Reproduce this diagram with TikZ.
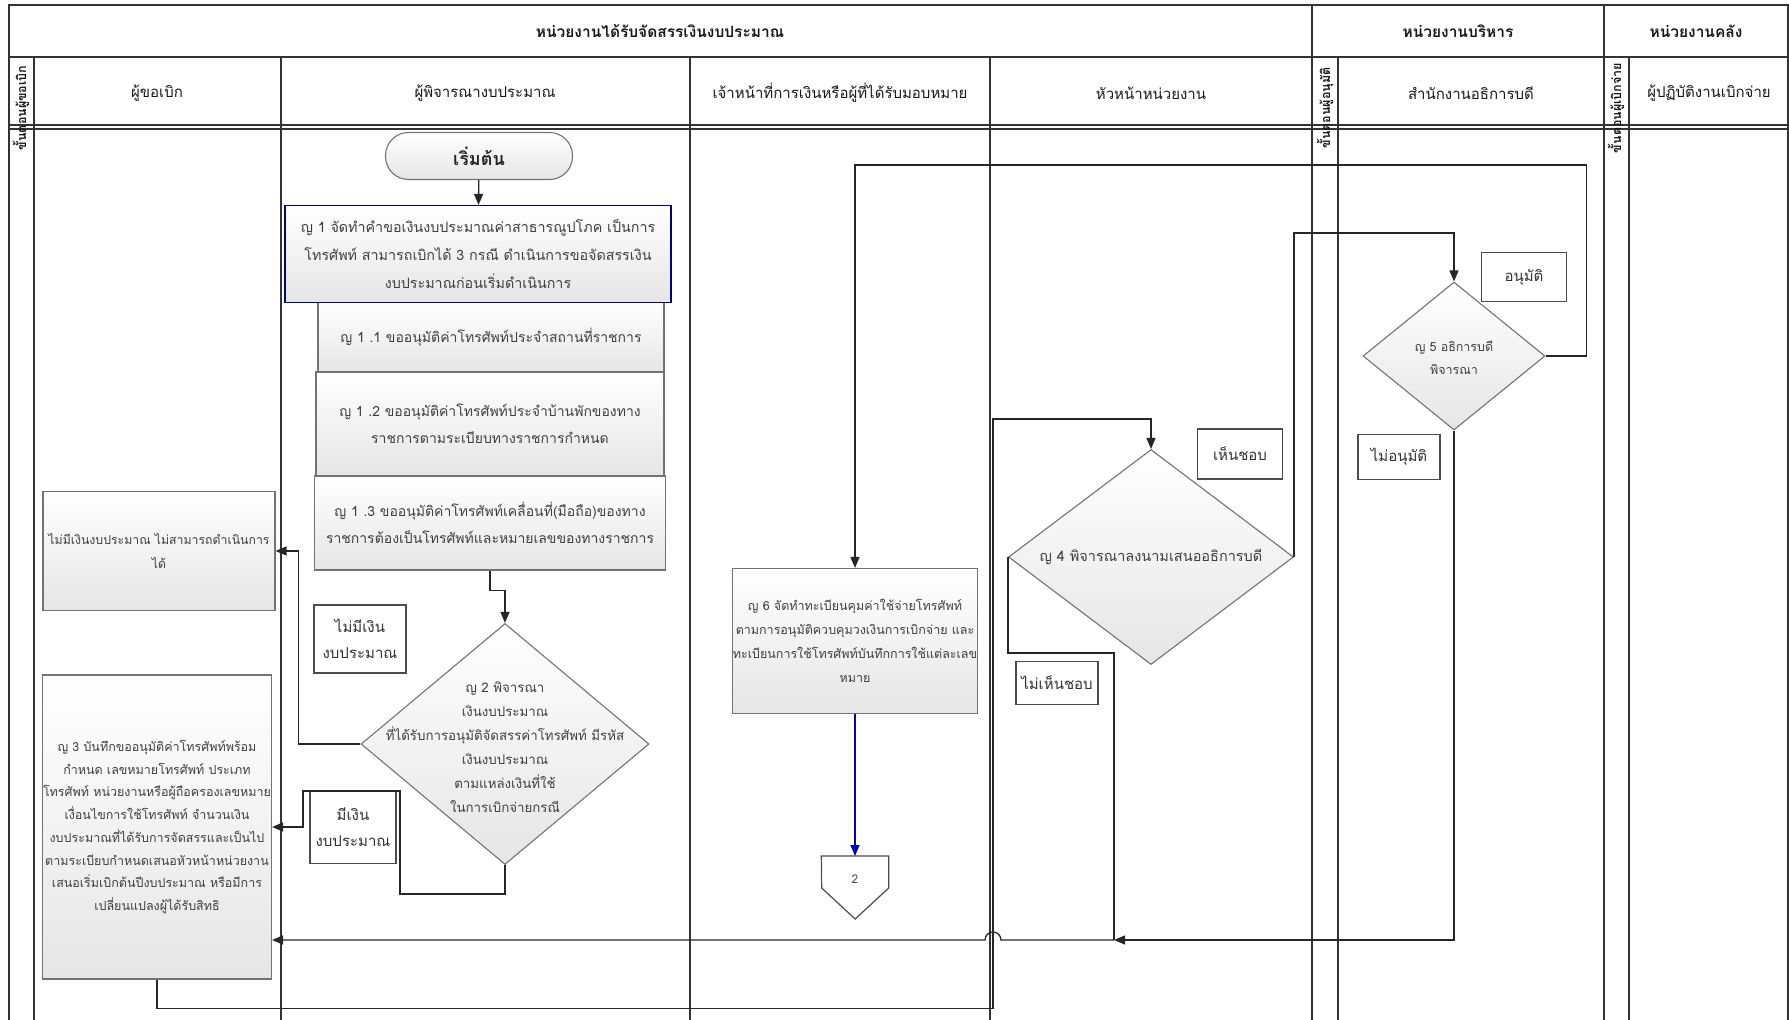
\documentclass[tikz,border=0pt]{standalone}
\usepackage{fontspec}
\setmainfont[Script=Thai]{Loma}
\usetikzlibrary{positioning, shapes.geometric, arrows.meta}

\newcommand{\fsz}[2]{\fontsize{#1}{#2}\selectfont}

\begin{document}
\begin{tikzpicture}[x=1pt, y=-1pt,
    lane/.style={line width=1.3pt, draw=black!80},
    procbox/.style={rectangle, draw=black!55, line width=1.1pt, top color=white, bottom color=black!10, text=black!75, align=center, inner sep=0pt},
    decide/.style={diamond, draw=black!55, line width=1.1pt, top color=white, bottom color=black!10, inner sep=0pt},
    dtext/.style={text=black!75, align=center, inner sep=0pt},
    tag/.style={rectangle, draw=black!70, line width=1.2pt, fill=white, text=black!80, align=center, inner sep=0pt, font=\fsz{15}{26}},
    flow/.style={line width=1.3pt, draw=black!85, -{Triangle[length=11pt, width=9pt]}},
    link/.style={line width=1.3pt, draw=black!85},
    head/.style={text=black!90, font=\fsz{15}{18}},
    sidehead/.style={rotate=90, text=black!90, font=\bfseries\fsz{12.5}{13}}
  ]
  \useasboundingbox (0,0) rectangle (1789,1020);

  \draw[lane] (9,5) rectangle (1788,1024);
  \draw[lane] (9,57) -- (1788,57);
  \draw[lane] (9,125) -- (1788,125);
  \draw[lane] (9,129) -- (1788,129);
  \foreach \x in {1312,1604}
    \draw[lane] (\x,5) -- (\x,1024);
  \foreach \x in {34,281,690,990,1338,1629}
    \draw[lane] (\x,57) -- (\x,1024);

  \node[head, font=\bfseries\fsz{15.5}{18}] (unitA) at (660,31) {หน่วยงานได้รับจัดสรรเงินงบประมาณ};
  \node[head, font=\bfseries\fsz{15.5}{18}] (unitB) at (1458,31) {หน่วยงานบริหาร};
  \node[head, font=\bfseries\fsz{15.5}{18}] (unitC) at (1696,31) {หน่วยงานคลัง};

  \node[head] (colA) at (157,93) {ผู้ขอเบิก};
  \node[head] (colB) at (485,93) {ผู้พิจารณางบประมาณ};
  \node[head] (colC) at (840,93) {เจ้าหน้าที่การเงินหรือผู้ที่ได้รับมอบหมาย};
  \node[head] (colD) at (1151,93) {หัวหน้าหน่วยงาน};
  \node[head] (colE) at (1471,93) {สำนักงานอธิการบดี};
  \node[head] (colF) at (1709,93) {ผู้ปฏิบัติงานเบิกจ่าย};

  \node[sidehead] (sideA) at (21,108) {ขั้นตอนผู้ขอเบิก};
  \node[sidehead] (sideB) at (1325,108) {ขั้นตอนผู้อนุมัติ};
  \node[sidehead] (sideC) at (1616,108) {ขั้นตอนผู้เบิกจ่าย};

  \node[procbox, rounded corners=23pt, minimum width=187, minimum height=47, text=black!85, font=\bfseries\fsz{18}{20}] (start) at (479,156) {เริ่มต้น};

  \node[procbox, minimum width=346, minimum height=69, font=\fsz{14}{26}] (j11) at (491,337) {ญ 1 .1 ขออนุมัติค่าโทรศัพท์ประจำสถานที่ราชการ};
  \node[procbox, minimum width=348, minimum height=104, font=\fsz{14}{27}] (j12) at (490,424) {ญ 1 .2 ขออนุมัติค่าโทรศัพท์ประจำบ้านพักของทาง\\ราชการตามระเบียบทางราชการกำหนด};
  \node[procbox, minimum width=351, minimum height=94, font=\fsz{14}{27}] (j13) at (490,523) {ญ 1 .3 ขออนุมัติค่าโทรศัพท์เคลื่อนที่(มือถือ)ของทาง\\ราชการต้องเป็นโทรศัพท์และหมายเลขของทางราชการ};
  \node[procbox, draw=blue!55!black, minimum width=386, minimum height=97, font=\fsz{14.3}{28}] (j1) at (478,254) {ญ 1 จัดทำคำขอเงินงบประมาณค่าสาธารณูปโภค เป็นการ\\โทรศัพท์ สามารถเบิกได้ 3 กรณี ดำเนินการขอจัดสรรเงิน\\งบประมาณก่อนเริ่มดำเนินการ};

  \node[decide, minimum width=288, minimum height=241] (j2) at (505,744) {};
  \node[dtext, font=\fsz{13.3}{24}] (j2t) at (505,747) {ญ 2  พิจารณา\\เงินงบประมาณ\\ที่ได้รับการอนุมัติจัดสรรค่าโทรศัพท์ มีรหัส\\เงินงบประมาณ\\ตามแหล่งเงินที่ใช้\\ในการเบิกจ่ายกรณี};

  \node[procbox, minimum width=232, minimum height=119, font=\fsz{12.3}{24}] (nobud) at (159,551) {ไม่มีเงินงบประมาณ ไม่สามารถดำเนินการ\\ได้};
  \node[procbox, minimum width=229, minimum height=304, font=\fsz{12.5}{22.7}] (j3) at (157,827) {ญ 3  บันทึกขออนุมัติค่าโทรศัพท์พร้อม\\กำหนด เลขหมายโทรศัพท์ ประเภท\\โทรศัพท์ หน่วยงานหรือผู้ถือครองเลขหมาย\\เงื่อนไขการใช้โทรศัพท์ จำนวนเงิน\\งบประมาณที่ได้รับการจัดสรรและเป็นไป\\ตามระเบียบกำหนดเสนอหัวหน้าหน่วยงาน\\เสนอเริ่มเบิกต้นปีงบประมาณ หรือมีการ\\เปลี่ยนแปลงผู้ได้รับสิทธิ};

  \node[procbox, minimum width=243, minimum height=145, font=\fsz{12.5}{24}] (j6) at (855,641) {ญ 6  จัดทำทะเบียนคุมค่าใช้จ่ายโทรศัพท์\\ตามการอนุมัติควบคุมวงเงินการเบิกจ่าย และ\\ทะเบียนการใช้โทรศัพท์บันทึกการใช้แต่ละเลข\\หมาย};

  \node[decide, minimum width=285, minimum height=215] (j4) at (1151,557) {};
  \node[dtext, font=\fsz{14.5}{18}] (j4t) at (1151,557) {ญ 4  พิจารณาลงนามเสนออธิการบดี};

  \node[decide, minimum width=182, minimum height=148] (j5) at (1454,356) {};
  \node[dtext, font=\fsz{12.5}{23}] (j5t) at (1454,358) {ญ 5  อธิการบดี\\พิจารณา};

  \node[tag, minimum width=92, minimum height=68] (tnob) at (360,639) {ไม่มีเงิน\\งบประมาณ};
  \node[tag, minimum width=86, minimum height=73] (thas) at (353,827) {มีเงิน\\งบประมาณ};
  \node[tag, minimum width=85, minimum height=50] (tok4) at (1240,454) {เห็นชอบ};
  \node[tag, minimum width=82, minimum height=43] (tno4) at (1057,683) {ไม่เห็นชอบ};
  \node[tag, minimum width=85, minimum height=49] (tok5) at (1524,277) {อนุมัติ};
  \node[tag, minimum width=82, minimum height=45] (tno5) at (1399,457) {ไม่อนุมัติ};

  \node[anchor=north, minimum width=67, minimum height=46, inner sep=0pt, text=black!70, font=\fsz{12}{14}] (off) at (855,856) {2};
  \draw[line width=1.2pt, draw=black!70] (off.north west) -- (off.north east) -- ++(0,32) -- ++(-33.5,31) -- ++(-33.5,-31) -- cycle;

  \draw[flow] (start) -- (j1);
  \draw[flow] (j13.south) -- ++(0,20) -| (j2.north);
  \draw[flow] (j2.west) -- ++(-62,0) |- (nobud.east);
  \draw[flow] (j2.south) -- ++(0,29) -- ++(-105,0) -- ++(0,-103) -- ++(-97,0) |- (j3.east);
  \draw[flow] (j3.south) -- ++(0,29) -| (993,419) -| (j4.north);
  \draw[flow] (j4.east) -- ++(0,-324) -| (j5.north);
  \draw[flow] (j5.east) -- ++(41,0) -- ++(0,-191) -| (j6.north);
  \draw[flow, draw=blue!75!black] (j6.south) -- (off.north);

  \coordinate (meet) at (1114,940);
  \draw[flow] (j5.south) |- (meet);
  \draw[link] (j4.west) -- ++(0,96) -| (meet);
  \draw[flow] (meet) -- (1001,940) arc[start angle=0, end angle=-180, radius=8] -- (meet -| j3.east);
\end{tikzpicture}
\end{document}
